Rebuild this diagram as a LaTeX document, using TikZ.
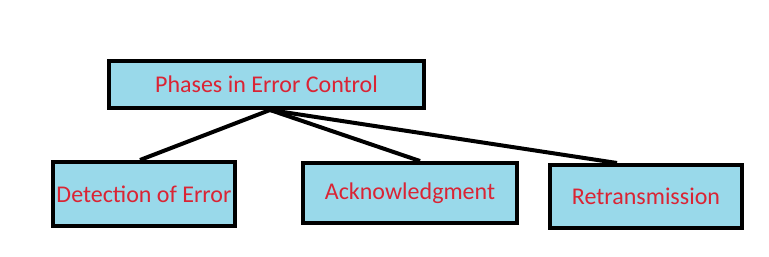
\documentclass[tikz,border=0pt]{standalone}
\usepackage{fontspec}
\setmainfont{Carlito}
\usetikzlibrary{positioning}
\definecolor{phaseblue}{RGB}{153,217,234}
\definecolor{phasered}{RGB}{218,36,52}

\begin{document}
\begin{tikzpicture}[x=1pt, y=-1pt, font=\fontsize{24}{28}\selectfont,
		phasebox/.style={draw=black, fill=phaseblue, line width=4pt,
		                 text=phasered, inner sep=0pt, align=center},
		link/.style={line width=4pt, black}]
		\useasboundingbox[fill=white] (0,0) rectangle (769,257);
		\node[phasebox, minimum width=315pt, minimum height=47pt] (root) at (266.5,84.5) {Phases in Error Control};
		\node[phasebox, minimum width=182pt, minimum height=64pt] (det) at (144,194) {Detection of Error};
		\node[phasebox, minimum width=214pt, minimum height=60pt] (ack) at (410,193) {Acknowledgment};
		\node[phasebox, minimum width=192pt, minimum height=63pt] (ret) at (646,196.5) {Retransmission};
		\coordinate (hub) at ([xshift=3.5pt]root.south);
		\draw[link] (hub) -- ([xshift=-4pt]det.north);
		\draw[link] (hub) -- ([xshift=10pt]ack.north);
		\draw[link] (hub) -- ([xshift=-29pt]ret.north);
	\end{tikzpicture}
\end{document}
